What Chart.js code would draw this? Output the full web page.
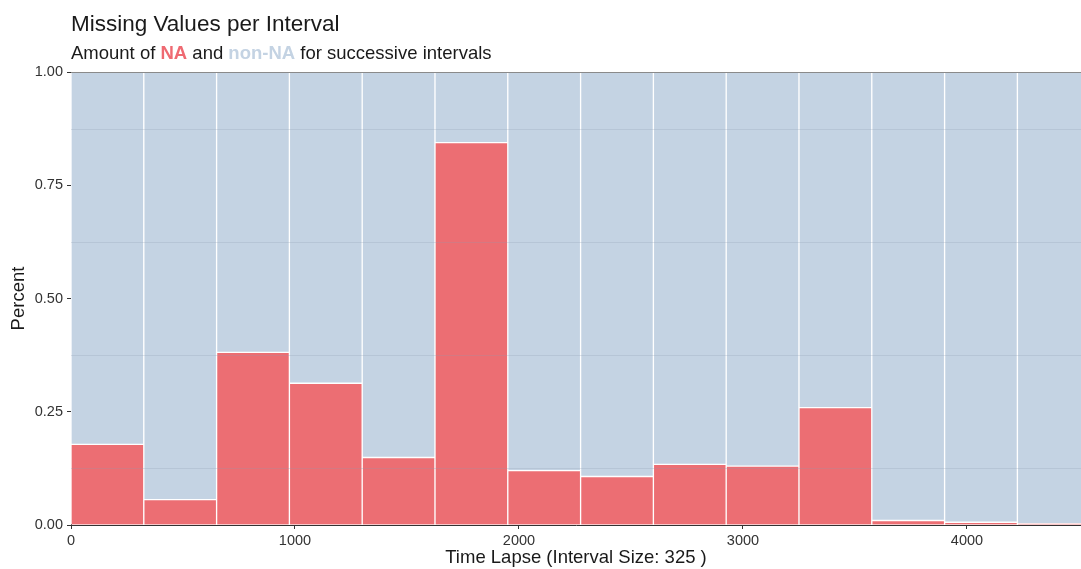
<!DOCTYPE html>
<html>
<head>
<meta charset="utf-8">
<script src="https://cdn.jsdelivr.net/npm/chart.js@4/dist/chart.umd.min.js"></script>
<style>
  html, body { margin: 0; padding: 0; background: #fff; }
  #wrap { position: relative; width: 1081px; height: 569px; overflow: hidden; font-family: "Liberation Sans", Arial, sans-serif; }
  #c { position: absolute; left: 0; top: 0; }
  #title { position: absolute; left: 71px; top: 13px; font-size: 22.5px; line-height: 22.5px; color: #1a1a1a; white-space: nowrap; }
  #subtitle { position: absolute; left: 71px; top: 43.5px; font-size: 18.5px; line-height: 18.5px; color: #1a1a1a; white-space: nowrap; }
  .na { color: #EF6A72; font-weight: bold; }
  .nonna { color: #C4D3E3; font-weight: bold; }
</style>
</head>
<body>
<div id="wrap">
  <canvas id="c" width="1081" height="569"></canvas>
  <div id="title">Missing Values per Interval</div>
  <div id="subtitle">Amount of <span class="na">NA</span> and <span class="nonna">non-NA</span> for successive intervals</div>
</div>
<script>
// ---- data ----
const binCenters = [162.5, 487.5, 812.5, 1137.5, 1462.5, 1787.5, 2112.5, 2437.5, 2762.5, 3087.5, 3412.5, 3737.5, 4062.5, 4387.5];
const naShare    = [0.178, 0.056, 0.381, 0.313, 0.149, 0.844, 0.120, 0.107, 0.134, 0.130, 0.259, 0.010, 0.006, 0.003];
const nonNaShare = [0.822, 0.944, 0.619, 0.687, 0.851, 0.156, 0.880, 0.893, 0.866, 0.870, 0.741, 0.990, 0.994, 0.997];
const xTickValues = [0, 1000, 2000, 3000, 4000];
const yTickValues = [0, 0.25, 0.5, 0.75, 1];
const yGridValues = [0.125, 0.375, 0.625, 0.875];

const RED = '#EC6E73';
const BLUE = '#C4D3E3';

const extras = {
  id: 'extras',
  afterDatasetsDraw(chart) {
    const { ctx, chartArea: a, scales } = chart;
    ctx.save();
    ctx.strokeStyle = 'rgba(140,155,175,0.25)';
    ctx.lineWidth = 1;
    yGridValues.forEach(v => {
      const y = Math.round(scales.y.getPixelForValue(v)) + 0.5;
      ctx.beginPath(); ctx.moveTo(a.left, y); ctx.lineTo(a.right, y); ctx.stroke();
    });
    // top border
    ctx.strokeStyle = '#8a8a8a';
    ctx.beginPath(); ctx.moveTo(a.left, a.top + 0.5); ctx.lineTo(a.right, a.top + 0.5); ctx.stroke();
    ctx.restore();
  }
};

new Chart(document.getElementById('c'), {
  type: 'bar',
  data: {
    datasets: [
      {
        label: 'NA',
        data: binCenters.map((x, i) => ({ x: x, y: naShare[i] })),
        backgroundColor: RED,
        borderColor: '#ffffff',
        borderWidth: 1,
        borderSkipped: 'start',
        barPercentage: 1,
        categoryPercentage: 1
      },
      {
        label: 'non-NA',
        data: binCenters.map((x, i) => ({ x: x, y: nonNaShare[i] })),
        backgroundColor: BLUE,
        borderColor: '#ffffff',
        borderWidth: 1,
        borderSkipped: false,
        barPercentage: 1,
        categoryPercentage: 1
      }
    ]
  },
  options: {
    responsive: false,
    animation: false,
    layout: { padding: { top: 72, left: 0, right: 0, bottom: 0 } },
    plugins: { legend: { display: false }, tooltip: { enabled: false }, title: { display: false } },
    scales: {
      x: {
        type: 'linear',
        stacked: true,
        min: 0,
        max: 4509,
        offset: false,
        afterBuildTicks(s) { s.ticks = xTickValues.map(v => ({ value: v })); },
        afterFit(s) { s.height = 44; },
        grid: { offset: false, drawOnChartArea: false, drawTicks: true, tickLength: 4, tickColor: '#333' },
        border: { color: '#333', width: 1 },
        ticks: { color: '#333', font: { family: 'Liberation Sans', size: 14.5 }, padding: 3, maxRotation: 0, callback: v => String(v) },
        title: { display: true, text: 'Time Lapse (Interval Size: 325 )', color: '#1a1a1a', font: { family: 'Liberation Sans', size: 18.5 }, padding: { top: 0, bottom: 0 } }
      },
      y: {
        stacked: true,
        min: 0,
        max: 1,
        afterBuildTicks(s) { s.ticks = yTickValues.map(v => ({ value: v })); },
        afterFit(s) { s.width = 71; },
        grid: { drawOnChartArea: false, drawTicks: true, tickLength: 4, tickColor: '#333' },
        border: { color: '#333', width: 1 },
        ticks: { color: '#333', font: { family: 'Liberation Sans', size: 14.5 }, padding: 4, callback: v => Number(v).toFixed(2) },
        title: { display: true, text: 'Percent', color: '#1a1a1a', font: { family: 'Liberation Sans', size: 18.5 }, padding: { top: 8, bottom: 0 } }
      }
    }
  },
  plugins: [extras]
});
</script>
</body>
</html>
